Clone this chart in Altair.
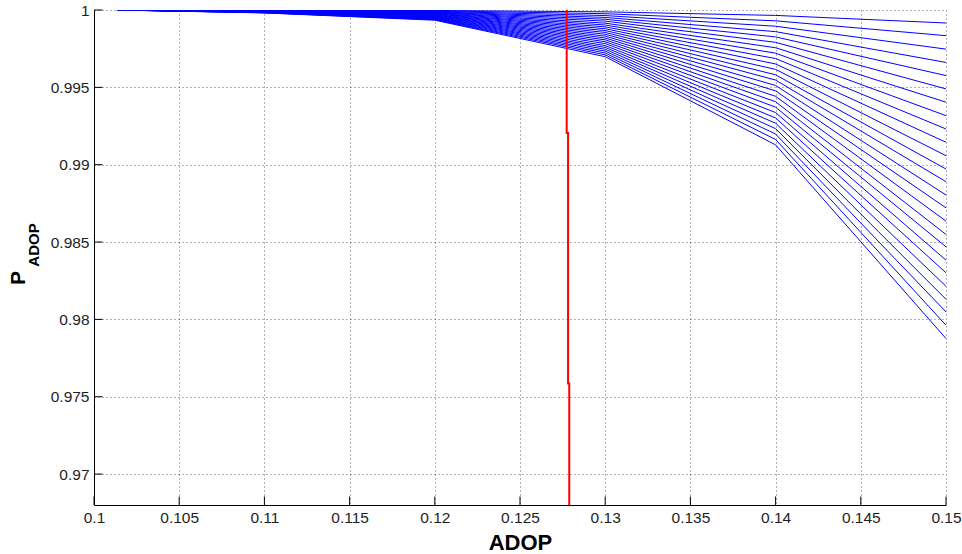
import altair as alt
import pandas as pd

# ADOP break points shared by every P_ADOP curve
ADOP = [0.1014, 0.11, 0.12, 0.13, 0.14, 0.15]

# P_ADOP of the 25 curves (top curve first) at each ADOP break point
P_0101 = [1.0, 1.0, 1.0, 1.0, 1.0, 1.0, 1.0, 1.0, 1.0, 1.0, 1.0, 1.0, 1.0,
          1.0, 1.0, 1.0, 1.0, 1.0, 1.0, 1.0, 1.0, 1.0, 1.0, 1.0, 1.0]
P_011 = [0.99999, 0.99998, 0.99998, 0.99997, 0.99996, 0.99995, 0.99995,
         0.99994, 0.99993, 0.99992, 0.99992, 0.99991, 0.99990, 0.99989,
         0.99989, 0.99988, 0.99987, 0.99986, 0.99986, 0.99985, 0.99984,
         0.99983, 0.99983, 0.99982, 0.99981]
P_012 = [0.99997, 0.99995, 0.99992, 0.99989, 0.99987, 0.99984, 0.99982,
         0.99979, 0.99976, 0.99974, 0.99971, 0.99968, 0.99966, 0.99963,
         0.99960, 0.99958, 0.99955, 0.99952, 0.99950, 0.99947, 0.99945,
         0.99942, 0.99939, 0.99937, 0.99934]
P_013 = [0.99988, 0.99976, 0.99964, 0.99952, 0.99940, 0.99928, 0.99915,
         0.99903, 0.99891, 0.99879, 0.99867, 0.99855, 0.99843, 0.99831,
         0.99819, 0.99807, 0.99795, 0.99783, 0.99770, 0.99758, 0.99746,
         0.99734, 0.99722, 0.99710, 0.99698]
P_014 = [0.99965, 0.99930, 0.99895, 0.99860, 0.99826, 0.99791, 0.99756,
         0.99721, 0.99686, 0.99651, 0.99616, 0.99581, 0.99547, 0.99512,
         0.99477, 0.99442, 0.99407, 0.99372, 0.99337, 0.99302, 0.99268,
         0.99233, 0.99198, 0.99163, 0.99128]
P_015 = [0.99916, 0.99834, 0.99747, 0.99661, 0.99576, 0.99490, 0.99404,
         0.99317, 0.99231, 0.99145, 0.99058, 0.98972, 0.98890, 0.98804,
         0.98721, 0.98635, 0.98549, 0.98469, 0.98383, 0.98301, 0.98214,
         0.98130, 0.98048, 0.97962, 0.97876]

# threshold curve (red)
RED_ADOP = [0.12774, 0.12774, 0.12782, 0.12782, 0.12789, 0.12789]
RED_P = [1.0, 0.99205, 0.99205, 0.97586, 0.97586, 0.968]

# axis ticks
X_TICKS = [0.1, 0.105, 0.11, 0.115, 0.12, 0.125, 0.13, 0.135, 0.14, 0.145, 0.15]
Y_TICKS = [0.97, 0.975, 0.98, 0.985, 0.99, 0.995, 1.0]

X_TITLE = "ADOP"
Y_TITLE_MAIN = "P"
Y_TITLE_SUB = "ADOP"

W, H = 852, 495
TICK_LEN = 8.5
FONT = "Liberation Sans"
INK = "#1e1e1e"

columns = [P_0101, P_011, P_012, P_013, P_014, P_015]
rows = []
for k in range(len(P_015)):
    for i, a in enumerate(ADOP):
        rows.append({"curve": k, "adop": a, "p": columns[i][k], "ord": i})
curves = pd.DataFrame(rows)

red = pd.DataFrame({"adop": RED_ADOP, "p": RED_P, "ord": list(range(len(RED_P)))})

x_scale = alt.Scale(domain=[0.1, 0.15], nice=False, zero=False)
y_scale = alt.Scale(domain=[0.968, 1.0], nice=False, zero=False)

axis_common = dict(
    grid=True, gridDash=[1, 3], gridColor="#000000", gridOpacity=0.6, gridWidth=1,
    ticks=False, tickSize=0, domain=True, domainColor="#000000", domainWidth=1,
    labelFont=FONT, labelFontSize=15.5, labelColor=INK, labelPadding=5,
    labelFlush=False, labelOverlap=False, format="~g",
)

x_axis = alt.Axis(values=X_TICKS, title=X_TITLE, titleFont=FONT, titleFontSize=22,
                  titleFontWeight="bold", titleColor="#000000", titlePadding=7,
                  **axis_common)
y_axis = alt.Axis(values=Y_TICKS, title=None, **axis_common)

X = alt.X("adop:Q", scale=x_scale, axis=x_axis)
Y = alt.Y("p:Q", scale=y_scale, axis=y_axis)

blue = alt.Chart(curves).mark_line(color="#0000ff", strokeWidth=1, clip=True).encode(
    x=X, y=Y, detail="curve:N", order="ord:Q",
)

threshold = alt.Chart(red).mark_line(color="#ff0000", strokeWidth=2, clip=True).encode(
    x=X, y=Y, order="ord:Q",
)

# inward-pointing tick marks
x_ticks = alt.Chart(pd.DataFrame({"adop": X_TICKS})).mark_rule(color="#000000", strokeWidth=1).encode(
    x=X, y=alt.value(H), y2=alt.value(H - TICK_LEN),
)
y_ticks = alt.Chart(pd.DataFrame({"p": Y_TICKS})).mark_rule(color="#000000", strokeWidth=1).encode(
    y=Y, x=alt.value(0), x2=alt.value(TICK_LEN),
)

# y title: P with subscript ADOP
y_main = alt.Chart(pd.DataFrame({"s": [Y_TITLE_MAIN]})).mark_text(
    font=FONT, fontSize=21, fontWeight="bold", color="#000000", angle=270,
    align="center", baseline="alphabetic",
).encode(text="s:N", x=alt.value(-69), y=alt.value(268))
y_sub = alt.Chart(pd.DataFrame({"s": [Y_TITLE_SUB]})).mark_text(
    font=FONT, fontSize=15, fontWeight="bold", color="#000000", angle=270,
    align="center", baseline="alphabetic",
).encode(text="s:N", x=alt.value(-55), y=alt.value(235))

chart = alt.layer(blue, threshold, x_ticks, y_ticks, y_main, y_sub).properties(
    width=W, height=H,
    autosize=alt.AutoSizeParams(type="none"),
    padding={"left": 94, "top": 10, "right": 16, "bottom": 49},
    background="#ffffff",
).configure_view(stroke=None)

chart.save("out.html", embed_options={"renderer": "svg", "actions": False})
